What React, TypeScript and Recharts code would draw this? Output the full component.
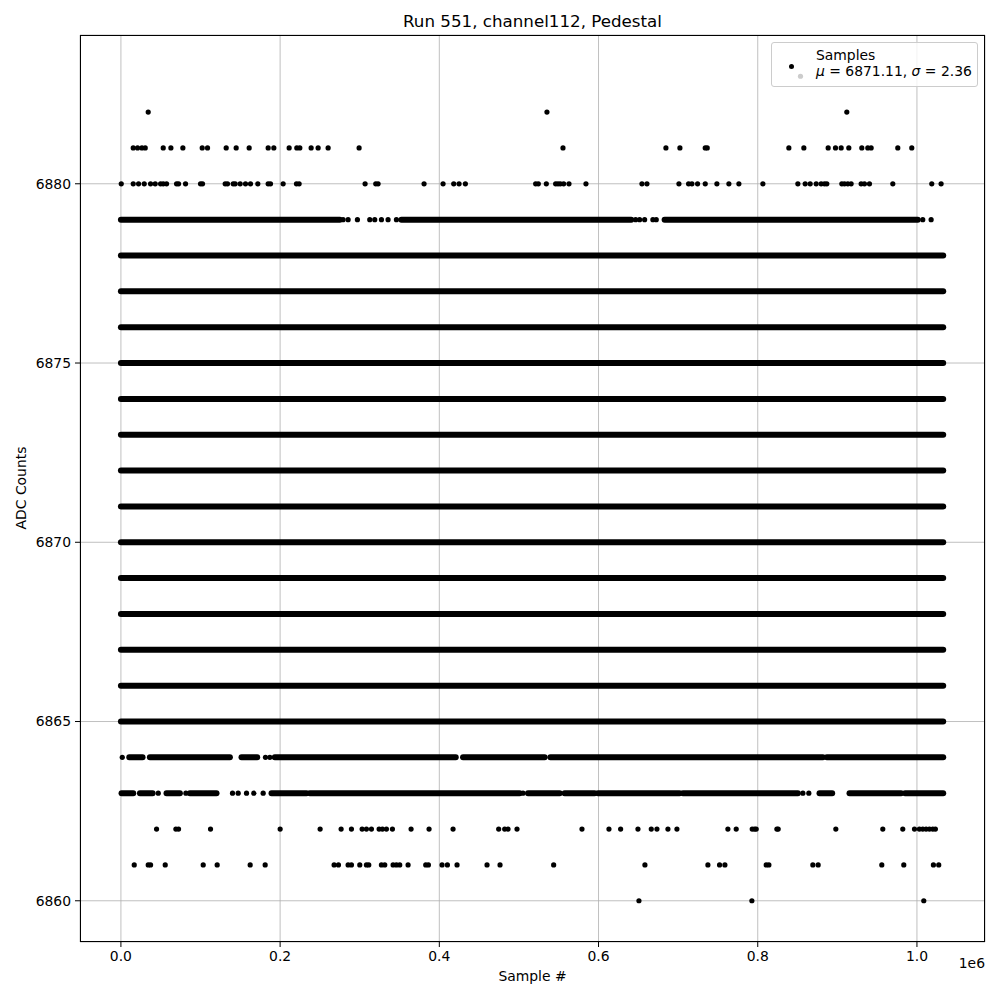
import React from "react";
import {
  CartesianGrid,
  ReferenceLine,
  Scatter,
  ScatterChart,
  XAxis,
  YAxis
} from "recharts";

// ADC levels that are filled from the first to the last sample
const denseLevels = [6865, 6866, 6867, 6868, 6869, 6870, 6871, 6872, 6873, 6874, 6875, 6876, 6877, 6878];
const denseRange: [number, number] = [0, 1033000];

// partly filled levels: runs of samples [from, to] and lone samples
const runs6879: [number, number][] = [[0, 275000], [352400, 641100], [683000, 1001000]];
const dots6879 = [279100, 285400, 297100, 312600, 318900, 327300, 335600, 346100, 646600, 651600, 657900, 668300, 672500, 1007300, 1017800];

const runs6864: [number, number][] = [
  [10500, 27200], [36400, 136900], [151500, 171200], [193300, 420600],
  [429800, 532300], [539500, 881800], [886800, 1033000]
];
const dots6864 = [1700, 181600, 187100];

const runs6863: [number, number][] = [
  [800, 15500], [23900, 39800], [57300, 74100], [86600, 120100], [189200, 233100],
  [237300, 500900], [511400, 551200], [557400, 595100], [599300, 701800],
  [706000, 850400], [877600, 893500], [915300, 980100], [985100, 1033000]
];
const dots6863 = [46900, 81600, 140200, 147300, 157800, 167000, 178700, 505100, 856700, 864200];

// sparse levels: sample numbers
const dots6883 = [853700];
const dots6882 = [34300, 535200, 911900];
const dots6881 = [
  15470, 20920, 26370, 30550, 53150, 62780, 77840, 102110, 108810, 132250, 144800,
  161130, 184980, 192090, 211350, 220970, 224740, 238960, 247750, 260310, 299230,
  555350, 684660, 702240, 734050, 736560, 839100, 857930, 888480, 897680, 904800,
  914420, 930740, 938270, 942460, 975940, 993520
];
const dots6880 = [
  420, 15470, 22180, 29300, 37250, 43100, 49800, 53150, 57340, 69890, 72400, 81190,
  100020, 102530, 130990, 133920, 141030, 143540, 149820, 156520, 162800, 172000,
  184980, 187910, 203810, 220550, 223900, 306750, 320150, 323080, 380840, 404700,
  418090, 424780, 432730, 521030, 524380, 534420, 546140, 549070, 552000, 556190,
  562880, 584220, 654540, 660820, 700990, 713130, 717310, 724430, 734050, 748700,
  763770, 776330, 806460, 850400, 859600, 865880, 873410, 879690, 883870, 886800,
  905630, 908980, 913170, 917350, 929910, 934090, 940370, 969670, 1018630, 1030350
];
const dots6862 = [
  44780, 69050, 72400, 112580, 200040, 250260, 276630, 289600, 303000, 308440,
  314720, 324340, 328530, 333550, 341080, 364520, 387110, 417250, 474570, 482100,
  486290, 497590, 579210, 613110, 627750, 649520, 666260, 673380, 687190, 698490,
  762510, 772970, 793060, 796000, 798090, 824030, 825700, 898100, 957100, 982200,
  996900, 1003100, 1007300, 1011500, 1015700, 1019900, 1023200
];
const dots6861 = [
  16740, 34310, 37250, 55660, 103370, 120940, 162380, 181210, 267840, 273280,
  285410, 289600, 300070, 308440, 311360, 327270, 331450, 341910, 346100, 350280,
  360740, 382930, 386280, 403430, 410130, 422260, 459930, 476250, 543630, 658300,
  737400, 752050, 758750, 810650, 814000, 869220, 875910, 955860, 983480, 1020700,
  1027400
];
const dots6860 = [650760, 792640, 1008600];

const xTicks = [0, 200000, 400000, 600000, 800000, 1000000];
const yTicks = [6860, 6865, 6870, 6875, 6880];

const sparse: [number, number[]][] = [
  [6883, dots6883], [6882, dots6882], [6881, dots6881], [6880, dots6880],
  [6879, dots6879], [6864, dots6864], [6863, dots6863],
  [6862, dots6862], [6861, dots6861], [6860, dots6860]
];
const points = sparse.flatMap(([y, xs]) => xs.map((x) => ({ x, y })));

const runs: { y: number; from: number; to: number }[] = [
  ...denseLevels.map((y) => ({ y, from: denseRange[0], to: denseRange[1] })),
  ...runs6879.map(([from, to]) => ({ y: 6879, from, to })),
  ...runs6864.map(([from, to]) => ({ y: 6864, from, to })),
  ...runs6863.map(([from, to]) => ({ y: 6863, from, to }))
];

const font = "'DejaVu Sans', sans-serif";
const tickStyle = { fill: "#000", fontSize: 13.9, fontFamily: font };

const Dot = (props: any) => <circle cx={props.cx} cy={props.cy} r={2.6} fill="#000" />;

export default function App() {
  return (
    <div style={{ position: "absolute", left: 0, top: 0, width: 1000, height: 1000, background: "#fff", fontFamily: font }}>
      <ScatterChart width={1000} height={1000} margin={{ top: 35, right: 15, bottom: 28, left: 20 }}>
        <CartesianGrid stroke="#b0b0b0" strokeWidth={0.8} />
        <XAxis
          type="number"
          dataKey="x"
          domain={[-51400, 1085500]}
          allowDataOverflow
          ticks={xTicks}
          tickFormatter={(v) => (v / 1e6).toFixed(1)}
          tick={tickStyle}
          tickLine={{ stroke: "#000" }}
          tickSize={5}
          tickMargin={4}
          axisLine={false}
          height={30}
        />
        <YAxis
          type="number"
          dataKey="y"
          domain={[6858.85, 6884.15]}
          allowDataOverflow
          ticks={yTicks}
          tick={tickStyle}
          tickLine={{ stroke: "#000" }}
          tickSize={5}
          tickMargin={4}
          axisLine={false}
          width={60}
        />
        {runs.map((r, i) => (
          <ReferenceLine
            key={i}
            segment={[{ x: r.from, y: r.y }, { x: r.to, y: r.y }]}
            stroke="#000"
            strokeWidth={6}
            strokeLinecap="round"
            ifOverflow="visible"
          />
        ))}
        <Scatter data={points} shape={Dot} isAnimationActive={false} />
      </ScatterChart>

      <div style={{ position: "absolute", left: 80, top: 35, width: 905, height: 907, border: "1px solid #000", boxSizing: "border-box", pointerEvents: "none" }} />

      <div style={{ position: "absolute", left: 80, top: 12, width: 905, textAlign: "center", fontSize: 16.7, lineHeight: "18px" }}>
        Run 551, channel112, Pedestal
      </div>
      <div style={{ position: "absolute", left: 80, top: 968, width: 905, textAlign: "center", fontSize: 13.9, lineHeight: "16px" }}>
        Sample #
      </div>
      <div style={{ position: "absolute", right: 15, top: 955, fontSize: 13.9, lineHeight: "16px" }}>1e6</div>
      <div
        style={{
          position: "absolute",
          left: 21,
          top: 488,
          transform: "translate(-50%, -50%) rotate(-90deg)",
          fontSize: 13.9,
          lineHeight: "16px",
          whiteSpace: "nowrap"
        }}
      >
        ADC Counts
      </div>

      <div
        style={{
          position: "absolute",
          left: 771,
          top: 42,
          width: 207,
          height: 45,
          boxSizing: "border-box",
          border: "1px solid #cccccc",
          borderRadius: 3,
          background: "rgba(255,255,255,0.8)",
          fontSize: 13.9,
          lineHeight: "16px"
        }}
      >
        <div style={{ position: "absolute", left: 16.5, top: 20.5, width: 5, height: 5, borderRadius: "50%", background: "#000" }} />
        <div style={{ position: "absolute", left: 44, top: 4 }}>Samples</div>
        <div style={{ position: "absolute", left: 44, top: 20, whiteSpace: "nowrap" }}>
          <i>μ</i> = 6871.11, <i>σ</i> = 2.36
        </div>
      </div>
    </div>
  );
}
